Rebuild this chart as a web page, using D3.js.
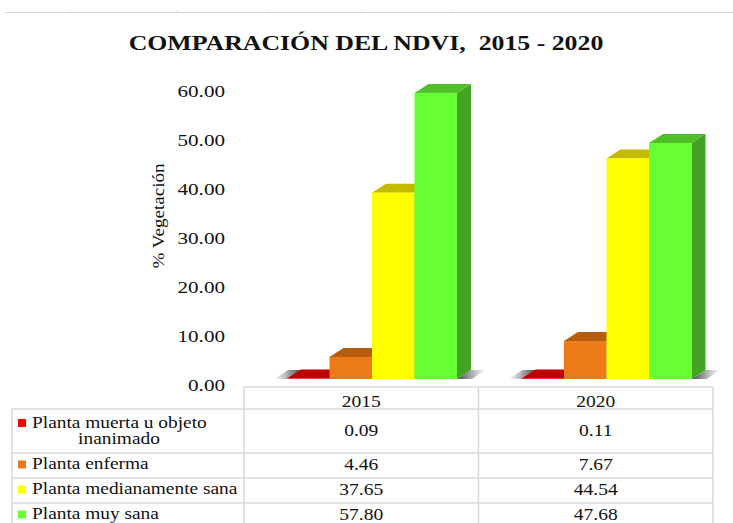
<!DOCTYPE html>
<html>
<head>
<meta charset="utf-8">
<script src="https://cdn.jsdelivr.net/npm/d3@7"></script>
<style>
  body { margin: 0; background: #fff; }
  text { font-family: "Liberation Serif", "Times New Roman", serif; fill: #111; }
</style>
</head>
<body>
<svg id="chart" width="733" height="523"></svg>
<script>
// data
const years = ['2015', '2020'];
const categories = ['Planta muerta u objeto\ninanimado', 'Planta enferma', 'Planta medianamente sana', 'Planta muy sana'];
const values2015 = [0.09, 4.46, 37.65, 57.80];
const values2020 = [0.11, 7.67, 44.54, 47.68];
const yTicks = [0, 10, 20, 30, 40, 50, 60];

const frontColors = ['#ff0000', '#ec7a18', '#ffff00', '#66ff33'];
const topColors = ['#c00000', '#b65c0f', '#c4bb00', '#4fc02a'];
const sideColors = ['#a00000', '#9a4d0c', '#a39c00', '#42a422'];

const seriesByYear = { '2015': values2015, '2020': values2020 };

const svg = d3.select('#chart');

// stretch text horizontally (the picture is a bit wide)
function stretch(sel, k) {
    sel.each(function () {
        const w = this.getComputedTextLength();
        d3.select(this).attr('textLength', w * k).attr('lengthAdjust', 'spacingAndGlyphs');
    });
}

// faint sheet rule on top
svg.append('line')
    .attr('x1', 5).attr('x2', 733).attr('y1', 12.5).attr('y2', 12.5)
    .attr('stroke', '#d6d6d6').attr('stroke-width', 1);
svg.selectAll('.sheetTick')
    .data([70, 177, 268, 362, 453])
    .join('line')
    .attr('x1', d => d).attr('x2', d => d)
    .attr('y1', 10).attr('y2', 12)
    .attr('stroke', '#e2e2e2');

// title
svg.append('text')
    .attr('x', 366).attr('y', 50)
    .attr('text-anchor', 'middle')
    .attr('font-size', 20).attr('font-weight', 'bold')
    .style('white-space', 'pre')
    .text('COMPARACIÓN DEL NDVI,  2015 - 2020')
    .call(stretch, 1.29);

// scales
const x0 = d3.scaleBand().domain(years).range([244, 713]);
const x1 = d3.scaleBand().domain(d3.range(categories.length)).range([0, 170]);
const groupOffset = 43;
const yBar = d3.scaleLinear().domain([0, 60]).range([379, 82]);
const yAxisScale = d3.scaleLinear().domain([0, 60]).range([385, 91.5]);
const depthX = 14, depthY = -9;

// y axis
const yAxis = svg.append('g')
    .attr('transform', 'translate(228,0)')
    .call(d3.axisLeft(yAxisScale).tickValues(yTicks).tickSize(0).tickPadding(3).tickFormat(d3.format('.2f')));
yAxis.select('.domain').remove();
yAxis.selectAll('text')
    .attr('font-family', '"Liberation Serif", serif')
    .attr('font-size', 16)
    .attr('fill', '#111')
    .call(stretch, 1.32);

svg.append('text')
    .attr('transform', 'translate(164,216) rotate(-90)')
    .attr('text-anchor', 'middle')
    .attr('font-size', 17)
    .attr('textLength', 105)
    .attr('lengthAdjust', 'spacingAndGlyphs')
    .text('% Vegetación');

// shadows
const defs = svg.append('defs');
const gl = defs.append('linearGradient').attr('id', 'shadowL').attr('x1', 0).attr('x2', 1);
gl.append('stop').attr('offset', 0).attr('stop-color', '#555').attr('stop-opacity', 0);
gl.append('stop').attr('offset', 1).attr('stop-color', '#333').attr('stop-opacity', 0.9);
const gr = defs.append('linearGradient').attr('id', 'shadowR').attr('x1', 0).attr('x2', 1);
gr.append('stop').attr('offset', 0).attr('stop-color', '#333').attr('stop-opacity', 0.9);
gr.append('stop').attr('offset', 1).attr('stop-color', '#555').attr('stop-opacity', 0);

const groups = svg.selectAll('.group')
    .data(years)
    .join('g')
    .attr('class', 'group')
    .attr('transform', d => `translate(${x0(d) + groupOffset},0)`);

const y0 = yBar(0);
const bw = x1.bandwidth();

groups.append('polygon')
    .attr('points', () => {
        const xs = x1(0);
        return [[xs - 13, y0], [xs, y0], [xs + depthX, y0 + depthY], [xs + depthX - 13, y0 + depthY]].join(' ');
    })
    .attr('fill', 'url(#shadowL)');

groups.append('polygon')
    .attr('points', () => {
        const xe = x1(categories.length - 1) + bw;
        return [[xe, y0], [xe + depthX, y0 + depthY], [xe + depthX + 15, y0 + depthY], [xe + 15, y0]].join(' ');
    })
    .attr('fill', 'url(#shadowR)');

const bars = groups.selectAll('.bar')
    .data(year => seriesByYear[year].map((v, i) => ({ year, i, v })))
    .join('g')
    .attr('class', 'bar');

bars.append('polygon')
    .attr('points', d => {
        const x = x1(d.i), yt = yBar(d.v);
        return [[x + bw, yt], [x + bw + depthX, yt + depthY], [x + bw + depthX, y0 + depthY], [x + bw, y0]].join(' ');
    })
    .attr('fill', d => sideColors[d.i]);

bars.append('polygon')
    .attr('points', d => {
        const x = x1(d.i), yt = yBar(d.v);
        return [[x, yt], [x + depthX, yt + depthY], [x + bw + depthX, yt + depthY], [x + bw, yt]].join(' ');
    })
    .attr('fill', d => topColors[d.i]);

bars.append('rect')
    .attr('x', d => x1(d.i))
    .attr('y', d => yBar(d.v))
    .attr('width', bw)
    .attr('height', d => y0 - yBar(d.v))
    .attr('fill', d => frontColors[d.i]);

// data table
const tableLeft = 12, tableRight = 713;
const headerTop = 387, headerBottom = 409;
const rowHeights = [44, 25, 25, 25];
const rowTops = rowHeights.reduce((acc, h, i) => acc.concat(acc[i] + h), [headerBottom]);
const gridColor = '#d9d9d9';

const table = svg.append('g').attr('class', 'table');

table.append('line')
    .attr('x1', x0('2015')).attr('x2', tableRight)
    .attr('y1', headerTop).attr('y2', headerTop)
    .attr('stroke', gridColor).attr('stroke-width', 1.5);

table.selectAll('.hline')
    .data(rowTops.slice(0, 4))
    .join('line')
    .attr('x1', tableLeft).attr('x2', tableRight)
    .attr('y1', d => d).attr('y2', d => d)
    .attr('stroke', gridColor).attr('stroke-width', 1.5);

table.append('line')
    .attr('x1', tableLeft).attr('x2', tableLeft)
    .attr('y1', headerBottom).attr('y2', 523)
    .attr('stroke', gridColor).attr('stroke-width', 1.5);

table.selectAll('.vline')
    .data([x0('2015'), x0('2020'), tableRight])
    .join('line')
    .attr('x1', d => d).attr('x2', d => d)
    .attr('y1', headerTop).attr('y2', 523)
    .attr('stroke', gridColor).attr('stroke-width', 1.5);

// header years
table.selectAll('.yearLabel')
    .data(years)
    .join('text')
    .attr('x', d => x0(d) + x0.bandwidth() / 2)
    .attr('y', 403)
    .attr('text-anchor', 'middle')
    .attr('dominant-baseline', 'middle')
    .attr('font-size', 16)
    .text(d => d)
    .call(stretch, 1.22);

// category labels with legend keys
categories.forEach((cat, i) => {
    const top = rowTops[i];
    const lines = cat.split('\n');
    const firstY = lines.length > 1 ? top + 15 : top + rowHeights[i] / 2;
    table.append('rect')
        .attr('x', 18).attr('y', firstY - 5)
        .attr('width', 8).attr('height', 8)
        .attr('fill', frontColors[i]);
    lines.forEach((ln, j) => {
        const t = table.append('text')
            .attr('y', firstY + j * 16)
            .attr('dominant-baseline', 'middle')
            .attr('font-size', 16)
            .text(ln);
        if (j === 0) t.attr('x', 32);
        else t.attr('x', 119).attr('text-anchor', 'middle');
        t.call(stretch, 1.21);
    });
    years.forEach(yr => {
        table.append('text')
            .attr('x', x0(yr) + x0.bandwidth() / 2)
            .attr('y', top + rowHeights[i] / 2 + 1)
            .attr('text-anchor', 'middle')
            .attr('dominant-baseline', 'middle')
            .attr('font-size', 16)
            .text(d3.format('.2f')(seriesByYear[yr][i]))
            .call(stretch, 1.22);
    });
});
</script>
</body>
</html>
